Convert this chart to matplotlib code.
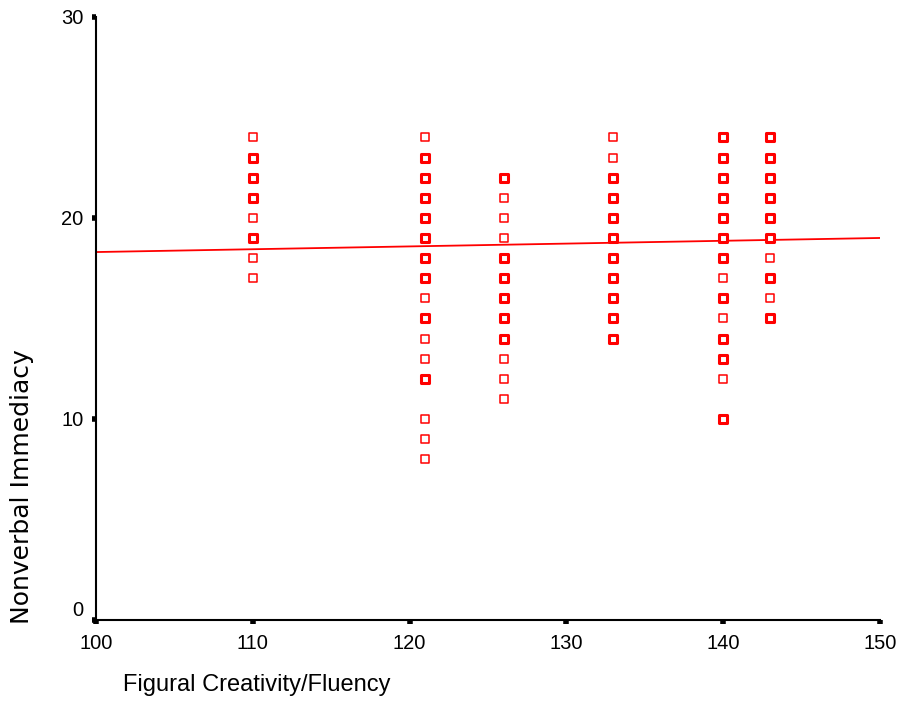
import matplotlib
matplotlib.use("Agg")
import matplotlib.pyplot as plt
import numpy as np

plt.rcParams['font.family'] = ['Liberation Sans', 'DejaVu Sans']

# data: immediacy scores for each creativity score,
# with how many cases sit on each spot (count > 1 -> heavier marker)
x_110 = [24, 23, 22, 21, 20, 19, 18, 17]
n_110 = [1, 2, 2, 2, 1, 2, 1, 1]
x_121 = [24, 23, 22, 21, 20, 19, 18, 17, 16, 15, 14, 13, 12, 10, 9, 8]
n_121 = [1, 2, 2, 2, 2, 2, 2, 2, 1, 2, 1, 1, 2, 1, 1, 1]
x_126 = [22, 21, 20, 19, 18, 17, 16, 15, 14, 13, 12, 11]
n_126 = [2, 1, 1, 1, 2, 2, 2, 2, 2, 1, 1, 1]
x_133 = [24, 23, 22, 21, 20, 19, 18, 17, 16, 15, 14]
n_133 = [1, 1, 2, 2, 2, 2, 2, 2, 2, 2, 2]
x_140 = [24, 23, 22, 21, 20, 19, 18, 17, 16, 15, 14, 13, 12, 10]
n_140 = [2, 2, 2, 2, 2, 2, 2, 1, 2, 1, 2, 2, 1, 2]
x_143 = [24, 23, 22, 21, 20, 19, 18, 17, 16, 15]
n_143 = [2, 2, 2, 2, 2, 2, 1, 2, 1, 2]

groups = {110: (x_110, n_110), 121: (x_121, n_121), 126: (x_126, n_126),
          133: (x_133, n_133), 140: (x_140, n_140), 143: (x_143, n_143)}

# fit line, values at x = 100 and x = 150
fit_x = [100, 150]
fit_y = [18.3, 19.0]

fig = plt.figure(figsize=(9, 7.27), dpi=100)
ax = fig.add_axes([0.1067, 0.147, 0.871, 0.830])

red = '#ff0000'
for xv, (ys, ns) in groups.items():
    ys = np.array(ys)
    ns = np.array(ns)
    xs = np.full(len(ys), xv)
    thin = ns == 1
    ax.scatter(xs[thin], ys[thin], marker='s', s=36, facecolors='white',
               edgecolors=red, linewidths=1.1, zorder=3)
    ax.scatter(xs[~thin], ys[~thin], marker='s', s=36, facecolors='white',
               edgecolors=red, linewidths=2.2, zorder=3)

ax.plot(fit_x, fit_y, color=red, linewidth=1.3, zorder=2)

ax.set_xlim(100, 150)
ax.set_ylim(0, 30)
ax.set_xticks([100, 110, 120, 130, 140, 150])
ax.set_yticks([0, 10, 20, 30])
ax.spines['top'].set_visible(False)
ax.spines['right'].set_visible(False)
ax.spines['left'].set_linewidth(1.5)
ax.spines['bottom'].set_linewidth(1.5)
ax.tick_params(axis='both', direction='out', length=3.2, width=4,
               labelsize=14.5, colors='black')
ax.tick_params(axis='x', pad=6.5)
ax.tick_params(axis='y', pad=6)
ax.get_yticklabels()[0].set_verticalalignment('bottom')

fig.text(0.137, 0.058, 'Figural Creativity/Fluency', fontsize=17,
         ha='left', va='center')
fig.text(0.024, 0.141, 'Nonverbal Immediacy', fontsize=18, rotation=90,
         ha='center', va='bottom', family='DejaVu Sans')

fig.savefig('out.png', dpi=100)
